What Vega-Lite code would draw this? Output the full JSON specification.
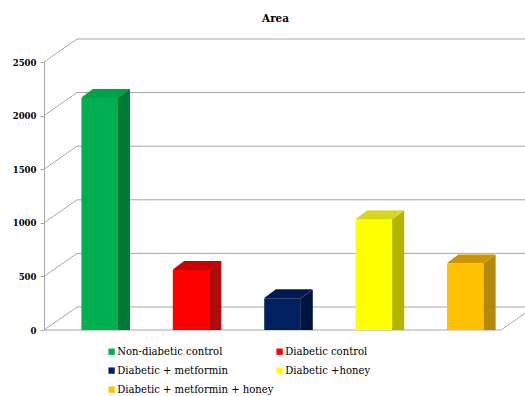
{
  "$schema": "https://vega.github.io/schema/vega-lite/v6.json",
  "width": 457,
  "height": 268,
  "autosize": {"type": "none"},
  "padding": {"left": 44, "top": 62, "right": 24, "bottom": 66},
  "background": "white",
  "title": {"text": "Area", "font": "DejaVu Serif Condensed", "fontSize": 11.5, "fontWeight": "bold", "color": "black", "anchor": "middle", "frame": "group", "offset": 14, "dx": 3},
  "config": {"view": {"stroke": null}},
  "datasets": {
    "bars": [
      {"group": "Non-diabetic control", "area": 2100},
      {"group": "Diabetic control", "area": 495},
      {"group": "Diabetic + metformin", "area": 230},
      {"group": "Diabetic +honey", "area": 965},
      {"group": "Diabetic + metformin + honey", "area": 555}
    ],
    "grid": [{"v": 0}, {"v": 500}, {"v": 1000}, {"v": 1500}, {"v": 2000}, {"v": 2500}]
  },
  "resolve": {"scale": {"x": "independent"}},
  "layer": [
    {
      "data": {"name": "grid"},
      "encoding": {
        "x": {"datum": 0, "type": "quantitative", "scale": {"domain": [0, 1], "nice": false, "zero": false}, "axis": null},
        "y": {"field": "v", "type": "quantitative", "scale": {"domain": [0, 2500], "nice": false},
          "axis": {"values": [0, 500, 1000, 1500, 2000, 2500], "format": "d", "grid": false, "title": null, "domainColor": "#a6a6a6", "tickColor": "#a6a6a6", "tickSize": 4, "labelFont": "DejaVu Serif Condensed", "labelFontSize": 9.5, "labelFontWeight": "bold", "labelColor": "black", "labelPadding": 4}}
      },
      "layer": [
        {
          "mark": {"type": "rule", "color": "#a6a6a6", "strokeWidth": 1, "xOffset": 33, "x2Offset": 33, "yOffset": -23, "y2Offset": -23},
          "encoding": {"x2": {"datum": 1}, "y2": {"field": "v"}}
        },
        {
          "mark": {"type": "rule", "color": "#a6a6a6", "strokeWidth": 1, "x2Offset": 33, "y2Offset": -23},
          "encoding": {"x2": {"datum": 0}, "y2": {"field": "v"}}
        },
        {
          "transform": [{"filter": "datum.v == 0"}],
          "mark": {"type": "rule", "color": "#a6a6a6", "strokeWidth": 1},
          "encoding": {"x2": {"datum": 1}, "y2": {"field": "v"}}
        },
        {
          "transform": [{"filter": "datum.v == 0"}],
          "mark": {"type": "rule", "color": "#a6a6a6", "strokeWidth": 1, "x2Offset": 33, "y2Offset": -23},
          "encoding": {"x": {"datum": 1}, "x2": {"datum": 1}, "y2": {"field": "v"}}
        }
      ]
    },
    {
      "data": {"name": "bars"},
      "encoding": {
        "x": {"field": "group", "type": "nominal", "scale": {"domain": ["Non-diabetic control", "Diabetic control", "Diabetic + metformin", "Diabetic +honey", "Diabetic + metformin + honey"], "paddingInner": 0.6, "paddingOuter": 0.3}, "axis": null},
        "y": {"field": "area", "type": "quantitative", "stack": null, "scale": {"domain": [0, 2500], "nice": false}}
      },
      "resolve": {"scale": {"color": "independent"}},
      "layer": [
        {
          "encoding": {"color": {"field": "group", "type": "nominal", "legend": null, "scale": {"domain": ["Non-diabetic control", "Diabetic control", "Diabetic + metformin", "Diabetic +honey", "Diabetic + metformin + honey"], "range": ["#007a37", "#a80000", "#00163f", "#b3b300", "#b08300"]}}},
          "layer": [
            {"mark": {"type": "bar", "width": 1.5, "xOffset": 28.8, "yOffset": -7.4, "y2Offset": -7.4}},
            {"mark": {"type": "bar", "width": 1.5, "xOffset": 29.8, "yOffset": -8.1, "y2Offset": -8.1}},
            {"mark": {"type": "bar", "width": 1.5, "xOffset": 30.8, "yOffset": -8.9, "y2Offset": -8.9}},
            {"mark": {"type": "bar", "width": 1.5, "xOffset": 31.8, "yOffset": -9.6, "y2Offset": -9.6}},
            {"mark": {"type": "bar", "width": 1.5, "xOffset": 32.8, "yOffset": -10.4, "y2Offset": -10.4}},
            {"mark": {"type": "bar", "width": 1.5, "xOffset": 33.8, "yOffset": -11.1, "y2Offset": -11.1}},
            {"mark": {"type": "bar", "width": 1.5, "xOffset": 34.8, "yOffset": -11.9, "y2Offset": -11.9}},
            {"mark": {"type": "bar", "width": 1.5, "xOffset": 35.8, "yOffset": -12.6, "y2Offset": -12.6}},
            {"mark": {"type": "bar", "width": 1.5, "xOffset": 36.8, "yOffset": -13.4, "y2Offset": -13.4}},
            {"mark": {"type": "bar", "width": 1.5, "xOffset": 37.8, "yOffset": -14.1, "y2Offset": -14.1}},
            {"mark": {"type": "bar", "width": 1.5, "xOffset": 38.8, "yOffset": -14.9, "y2Offset": -14.9}},
            {"mark": {"type": "bar", "width": 1.2, "xOffset": 39.7, "yOffset": -15.6, "y2Offset": -15.6}}
          ]
        },
        {
          "encoding": {"y2": {"field": "area"}, "color": {"field": "group", "type": "nominal", "legend": null, "scale": {"domain": ["Non-diabetic control", "Diabetic control", "Diabetic + metformin", "Diabetic +honey", "Diabetic + metformin + honey"], "range": ["#00a246", "#c80000", "#001a50", "#d0d000", "#cc9400"]}}},
          "layer": [
            {"mark": {"type": "bar", "xOffset": 10.7, "yOffset": -8.4, "y2Offset": -7}},
            {"mark": {"type": "bar", "xOffset": 12, "yOffset": -9.4, "y2Offset": -8}},
            {"mark": {"type": "bar", "xOffset": 13.3, "yOffset": -10.4, "y2Offset": -9}},
            {"mark": {"type": "bar", "xOffset": 14.7, "yOffset": -11.4, "y2Offset": -10}},
            {"mark": {"type": "bar", "xOffset": 16, "yOffset": -12.4, "y2Offset": -11}},
            {"mark": {"type": "bar", "xOffset": 17.3, "yOffset": -13.4, "y2Offset": -12}},
            {"mark": {"type": "bar", "xOffset": 18.7, "yOffset": -14.4, "y2Offset": -13}},
            {"mark": {"type": "bar", "xOffset": 20, "yOffset": -15.4, "y2Offset": -14}},
            {"mark": {"type": "bar", "xOffset": 21.3, "yOffset": -16, "y2Offset": -15}}
          ]
        },
        {"mark": {"type": "bar", "xOffset": 10, "yOffset": -7, "y2Offset": -7}, "encoding": {"color": {"field": "group", "type": "nominal", "scale": {"domain": ["Non-diabetic control", "Diabetic control", "Diabetic + metformin", "Diabetic +honey", "Diabetic + metformin + honey"], "range": ["#00b050", "#ff0000", "#002060", "#ffff00", "#ffc000"]},
          "legend": {"orient": "none", "legendX": 62, "legendY": 284, "columns": 2, "direction": "horizontal", "title": null, "symbolType": "square", "symbolSize": 40, "symbolStrokeWidth": 0, "labelFont": "DejaVu Serif Condensed", "labelFontSize": 11.2, "labelColor": "black", "labelOffset": 0, "columnPadding": 0, "rowPadding": 7, "labelLimit": 300}}}}
      ]
    }
  ]
}
